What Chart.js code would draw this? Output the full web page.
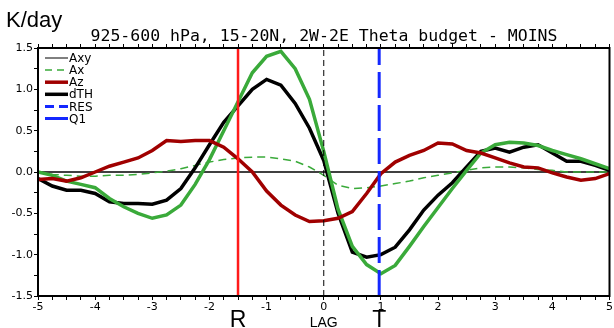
<!DOCTYPE html>
<html><head><meta charset="utf-8">
<script src="https://cdn.jsdelivr.net/npm/chart.js@4"></script>
<style>html,body{margin:0;padding:0;background:#fff}</style>
</head><body>
<canvas id="c" width="614" height="328" style="width:614px;height:328px;display:block"></canvas>
<script>
const lags = [-5,-4.75,-4.5,-4.25,-4,-3.75,-3.5,-3.25,-3,-2.75,-2.5,-2.25,-2,-1.75,-1.5,-1.25,-1,-0.75,-0.5,-0.25,0,0.25,0.5,0.75,1,1.25,1.5,1.75,2,2.25,2.5,2.75,3,3.25,3.5,3.75,4,4.25,4.5,4.75,5];
const Axy = [0,0,0,0,0,0,0,0,0,0,0,0,0,0,0,0,0,0,0,0,0,0,0,0,0,0,0,0,0,0,0,0,0,0,0,0,0,0,0,0,0];
const Ax = [0.0,-0.03,-0.04,-0.05,-0.05,-0.04,-0.04,-0.03,-0.01,0.01,0.04,0.08,0.12,0.15,0.17,0.18,0.18,0.16,0.13,0.06,-0.04,-0.16,-0.2,-0.19,-0.17,-0.14,-0.11,-0.07,-0.04,-0.01,0.02,0.05,0.06,0.06,0.05,0.03,0.02,0.0,0.0,0.0,0.0];
const Az = [-0.09,-0.08,-0.11,-0.07,0.0,0.07,0.12,0.17,0.26,0.38,0.37,0.38,0.38,0.3,0.16,0.0,-0.23,-0.4,-0.52,-0.6,-0.59,-0.56,-0.48,-0.26,-0.02,0.12,0.2,0.26,0.35,0.34,0.26,0.23,0.17,0.11,0.06,0.05,-0.01,-0.06,-0.1,-0.08,-0.02];
const dTH = [-0.08,-0.17,-0.22,-0.22,-0.26,-0.36,-0.38,-0.38,-0.39,-0.34,-0.2,0.05,0.33,0.6,0.8,1.0,1.12,1.05,0.83,0.53,0.14,-0.5,-0.97,-1.03,-1.0,-0.91,-0.7,-0.46,-0.28,-0.13,0.06,0.25,0.29,0.24,0.3,0.33,0.23,0.13,0.13,0.08,0.02];
const greenThick = [0.0,-0.04,-0.11,-0.15,-0.19,-0.32,-0.42,-0.5,-0.56,-0.52,-0.40,-0.15,0.15,0.5,0.85,1.2,1.4,1.46,1.25,0.88,0.25,-0.45,-0.9,-1.12,-1.23,-1.13,-0.9,-0.66,-0.43,-0.2,0.02,0.23,0.33,0.36,0.35,0.32,0.26,0.21,0.16,0.1,0.04];
const markerR = -1.5;
const markerT = 0.97;
const markerLag = 0;
const yMin = -1.5, yMax = 1.5, xMin = -5, xMax = 5;
const titleText = '925-600 hPa, 15-20N, 2W-2E Theta budget - MOINS';
const unitText = 'K/day';

const GREEN = '#3aaa3a', DRED = '#a00000', RED = '#ff1a1a', BLUE = '#1428ff';
const pts = arr => lags.map((x, i) => ({x, y: arr[i]}));
const vline = x => [{x, y: yMin}, {x, y: yMax}];

const legendItems = [
  {label: 'Axy', color: '#000', width: 1, dash: []},
  {label: 'Ax', color: GREEN, width: 1.5, dash: [7, 5]},
  {label: 'Az', color: DRED, width: 3.5, dash: []},
  {label: 'dTH', color: '#000', width: 3.5, dash: []},
  {label: 'RES', color: BLUE, width: 3, dash: [9, 5]},
  {label: 'Q1', color: BLUE, width: 3, dash: []}
];

const base = {pointRadius: 0, tension: 0, fill: false};
const datasets = [
  {...base, label: 'Axy', data: pts(Axy), borderColor: '#000', borderWidth: 1.3, order: 9},
  {...base, label: 'Ax', data: pts(Ax), borderColor: GREEN, borderWidth: 1.5, borderDash: [8, 5], order: 8},
  {...base, label: 'dTH', data: pts(dTH), borderColor: '#000', borderWidth: 3.5, order: 6},
  {...base, label: 'G', data: pts(greenThick), borderColor: GREEN, borderWidth: 3.5, order: 5},
  {...base, label: 'Az', data: pts(Az), borderColor: DRED, borderWidth: 3.5, order: 4},
  {...base, label: 'lag0', data: vline(markerLag), borderColor: '#000', borderWidth: 1, borderDash: [6, 4], order: 3},
  {...base, label: 'R', data: vline(markerR), borderColor: RED, borderWidth: 2.5, order: 2},
  {...base, label: 'T', data: vline(markerT), borderColor: BLUE, borderWidth: 3, borderDash: [26, 7], order: 1}
];

const tickFont = {family: 'DejaVu Sans', size: 11};
const isMult = (v, m) => Math.abs(v / m - Math.round(v / m)) < 1e-6;

const decor = {
  id: 'decor',
  afterDraw(chart) {
    const {ctx, chartArea: a} = chart;
    ctx.save();
    ctx.strokeStyle = '#000';
    ctx.lineWidth = 2;
    ctx.setLineDash([]);
    ctx.strokeRect(a.left, a.top, a.right - a.left, a.bottom - a.top);
    ctx.fillStyle = '#000';
    ctx.textBaseline = 'alphabetic';
    ctx.font = '22px "Liberation Sans"';
    ctx.textAlign = 'left';
    ctx.fillText(unitText, 6, 27);
    ctx.font = '16.5px "DejaVu Sans Mono"';
    ctx.textAlign = 'center';
    ctx.fillText(titleText, 324, 41);
    const xs = chart.scales.x;
    ctx.font = '23px "Liberation Sans"';
    ctx.fillText('R', xs.getPixelForValue(markerR), 327);
    ctx.fillText('T', xs.getPixelForValue(markerT), 327);
    ctx.font = '14px "Liberation Sans"';
    ctx.fillText('LAG', xs.getPixelForValue(markerLag), 327);
    // legend
    ctx.textAlign = 'left';
    ctx.textBaseline = 'middle';
    ctx.font = '12px "DejaVu Sans"';
    legendItems.forEach((it, i) => {
      const y = 58 + 12.1 * i;
      ctx.beginPath();
      ctx.strokeStyle = it.color;
      ctx.lineWidth = it.width;
      ctx.setLineDash(it.dash);
      ctx.moveTo(45, y);
      ctx.lineTo(68, y);
      ctx.stroke();
      ctx.fillStyle = '#000';
      ctx.fillText(it.label, 69, y + 1);
    });
    ctx.restore();
  }
};

new Chart(document.getElementById('c'), {
  type: 'line',
  data: {datasets},
  plugins: [decor],
  options: {
    responsive: false,
    devicePixelRatio: 1,
    animation: false,
    layout: {padding: {top: 40, right: 4, left: 0, bottom: 0}},
    plugins: {legend: {display: false}, tooltip: {enabled: false}, title: {display: false}},
    scales: {
      x: {
        type: 'linear', position: 'bottom', min: xMin, max: xMax,
        afterFit: s => { s.height = 32; },
        grid: {drawOnChartArea: false, color: '#000', tickLength: 4, tickWidth: 1},
        border: {display: true, color: '#000', width: 2},
        ticks: {stepSize: 0.25, autoSkip: false, maxRotation: 0, color: '#000', font: tickFont, padding: 1,
          callback: v => isMult(v, 1) ? String(Math.round(v)) : ''}
      },
      x2: {
        type: 'linear', position: 'top', min: xMin, max: xMax,
        afterFit: s => { s.height = 8; },
        grid: {drawOnChartArea: false, color: '#000', tickLength: 4, tickWidth: 1},
        border: {display: true, color: '#000', width: 2},
        ticks: {stepSize: 0.25, autoSkip: false, maxRotation: 0, font: tickFont, callback: () => ''}
      },
      y: {
        type: 'linear', position: 'left', min: yMin, max: yMax,
        afterFit: s => { s.width = 38; },
        grid: {drawOnChartArea: false, color: '#000', tickLength: 4, tickWidth: 1},
        border: {display: true, color: '#000', width: 2},
        ticks: {stepSize: 0.25, autoSkip: false, color: '#000', font: tickFont, padding: 1,
          callback: v => isMult(v, 0.5) ? v.toFixed(1) : ''}
      }
    }
  }
});
</script>
</body></html>
